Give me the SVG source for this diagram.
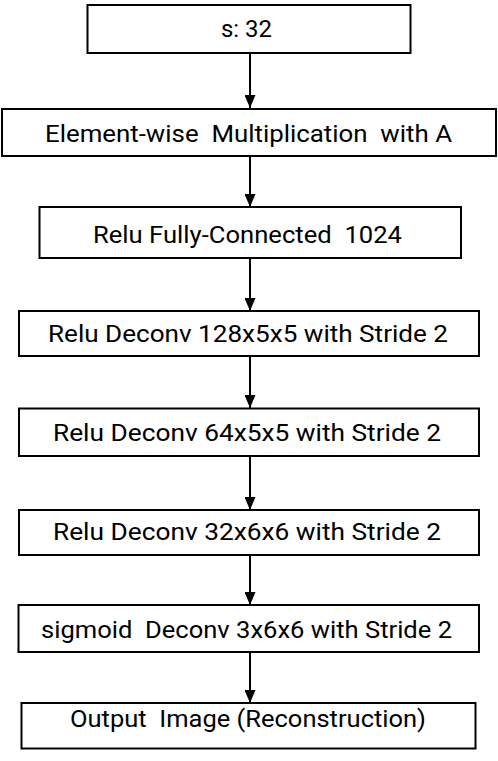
<svg xmlns="http://www.w3.org/2000/svg" width="498" height="761" viewBox="0 0 498 761">
<defs>
<marker id="ah" markerUnits="userSpaceOnUse" markerWidth="13" markerHeight="11" refX="13" refY="5.5" orient="auto">
<path d="M0,0 L13,5.5 L0,11 z" fill="#000"/>
</marker>
<style>
.box{fill:#fff;stroke:#000;stroke-width:2}
.lbl{font-family:Roboto,"Noto Sans","Liberation Sans",sans-serif;font-size:23px;fill:#000}
.con{stroke:#000;stroke-width:2;fill:none;marker-end:url(#ah)}
</style>
</defs>
<rect width="498" height="761" fill="#fff"/>
<g id="connectors">
<line class="con" x1="250" y1="53" x2="250" y2="108"/>
<line class="con" x1="250" y1="156" x2="250" y2="207"/>
<line class="con" x1="250" y1="258" x2="250" y2="311"/>
<line class="con" x1="250" y1="356" x2="250" y2="408"/>
<line class="con" x1="250" y1="456" x2="250" y2="510"/>
<line class="con" x1="250" y1="555" x2="250" y2="605"/>
<line class="con" x1="250" y1="652" x2="250" y2="703"/>
</g>
<g id="n1"><rect class="box" x="87.5" y="5" width="323" height="48"/><text class="lbl" x="221" y="37" textLength="51" lengthAdjust="spacingAndGlyphs">s: 32</text></g>
<g id="n2"><rect class="box" x="2" y="109" width="494" height="47"/><text class="lbl" x="45" y="142" textLength="407" lengthAdjust="spacingAndGlyphs" xml:space="preserve">Element-wise  Multiplication  with A</text></g>
<g id="n3"><rect class="box" x="39.5" y="207" width="421.5" height="51"/><text class="lbl" x="93" y="242.5" textLength="309" lengthAdjust="spacingAndGlyphs" xml:space="preserve">Relu Fully-Connected  1024</text></g>
<g id="n4"><rect class="box" x="19" y="311" width="460" height="45"/><text class="lbl" x="48" y="342" textLength="400" lengthAdjust="spacingAndGlyphs">Relu Deconv 128x5x5 with Stride 2</text></g>
<g id="n5"><rect class="box" x="19" y="408.5" width="460" height="47.5"/><text class="lbl" x="53" y="441" textLength="388" lengthAdjust="spacingAndGlyphs">Relu Deconv 64x5x5 with Stride 2</text></g>
<g id="n6"><rect class="box" x="19" y="510" width="460" height="45"/><text class="lbl" x="53" y="539.5" textLength="388" lengthAdjust="spacingAndGlyphs">Relu Deconv 32x6x6 with Stride 2</text></g>
<g id="n7"><rect class="box" x="18.5" y="605" width="460.5" height="47"/><text class="lbl" x="41" y="637.5" textLength="411" lengthAdjust="spacingAndGlyphs" xml:space="preserve">sigmoid  Deconv 3x6x6 with Stride 2</text></g>
<g id="n8"><rect class="box" x="21.5" y="703" width="454" height="45.5"/><text class="lbl" x="70" y="727" textLength="356" lengthAdjust="spacingAndGlyphs" xml:space="preserve">Output  Image (Reconstruction)</text></g>
</svg>
